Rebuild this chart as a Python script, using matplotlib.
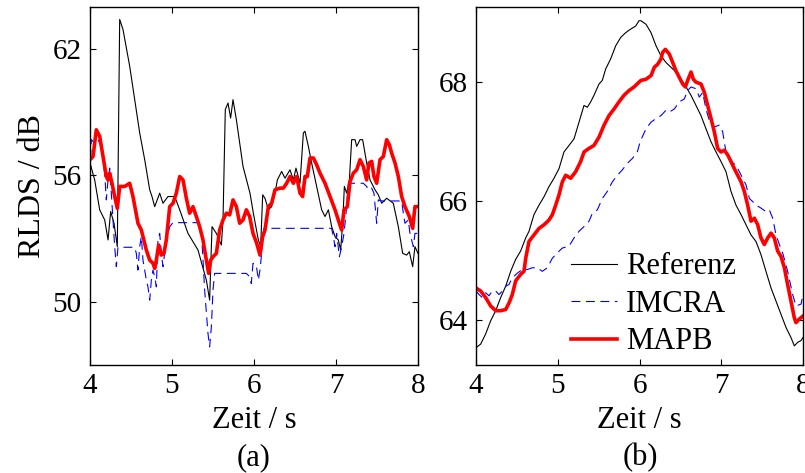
import matplotlib
matplotlib.use("Agg")
import matplotlib.pyplot as plt

plt.rcParams['font.family'] = ['Liberation Serif', 'DejaVu Serif']

# ---- panel (a): RLDS over time, x in s, y in dB ----
ref_a_t = [4.00, 4.057, 4.118, 4.179, 4.22, 4.252, 4.293, 4.333, 4.362, 4.402, 4.484, 4.606, 4.667,
           4.728, 4.756, 4.789, 4.850, 4.890, 4.951, 5.033, 5.094, 5.195, 5.317, 5.419, 5.459, 5.488,
           5.541, 5.602, 5.622, 5.650, 5.683, 5.715, 5.744, 5.785, 5.866, 5.951, 5.992, 6.053, 6.081,
           6.106, 6.134, 6.175, 6.215, 6.256, 6.285, 6.337, 6.378, 6.439, 6.480, 6.512, 6.561, 6.602,
           6.622, 6.663, 6.703, 6.764, 6.825, 6.866, 6.907, 6.947, 6.988, 7.028, 7.057, 7.081, 7.102,
           7.130, 7.163, 7.191, 7.232, 7.252, 7.293, 7.325, 7.374, 7.415, 7.476, 7.516, 7.557, 7.618,
           7.699, 7.760, 7.813, 7.862, 7.894, 7.935, 7.963, 8.0]
ref_a = [56.6, 55.79, 54.37, 53.89, 52.94, 54.29, 53.73, 52.62, 63.41, 62.94, 61.19, 58.02, 56.75,
         55.32, 55.0, 54.52, 55.16, 54.68, 55.0, 55.0, 54.37, 53.25, 52.46, 51.03, 50.08, 53.57,
         53.25, 52.70, 53.89, 59.13, 59.44, 58.73, 59.60, 58.65, 56.43, 55.16, 54.21, 52.94, 52.62,
         55.08, 54.92, 54.37, 54.52, 55.16, 55.79, 56.19, 55.87, 56.27, 55.79, 56.35, 55.63, 58.02,
         58.10, 57.38, 56.59, 55.48, 54.37, 54.05, 54.37, 53.57, 53.10, 52.94, 52.46, 53.73, 55.48,
         55.16, 55.79, 57.70, 57.70, 57.38, 57.70, 57.70, 56.59, 55.79, 55.32, 55.08, 54.68, 54.92,
         54.68, 53.57, 52.30, 52.22, 52.38, 51.67, 52.62, 52.30]

imcra_a_t = [4.00, 4.016, 4.057, 4.098, 4.138, 4.179, 4.199, 4.22, 4.240, 4.260, 4.301, 4.321, 4.341,
             4.545, 4.565, 4.585, 4.606, 4.626, 4.646, 4.667, 4.687, 4.707, 4.728, 4.748, 4.768,
             4.789, 4.809, 4.829, 4.850, 4.870, 4.890, 4.931, 4.972, 5.012, 5.317, 5.358, 5.398,
             5.439, 5.459, 5.480, 5.5, 5.520, 5.907, 5.947, 5.967, 5.988, 6.028, 6.053, 6.073, 6.093,
             6.106, 6.122, 6.947, 6.967, 6.988, 7.008, 7.041, 7.069, 7.098, 7.130, 7.150, 7.333,
             7.374, 7.394, 7.435, 7.463, 7.496, 7.516, 7.557, 7.801, 7.821, 7.841, 7.882, 7.902,
             7.943, 7.963, 8.0]
imcra_a = [56.11, 57.70, 57.54, 57.70, 57.38, 56.11, 54.84, 55.79, 56.35, 55.16, 52.62, 51.67, 52.59,
           52.59, 52.30, 51.51, 52.62, 53.10, 51.98, 51.51, 51.03, 50.71, 50.08, 51.03, 51.51,
           51.19, 50.71, 52.94, 53.25, 52.30, 51.67, 52.94, 53.57, 53.76, 53.76, 53.41, 50.56,
           48.49, 47.86, 48.81, 50.56, 51.35, 51.35, 51.19, 50.87, 51.83, 51.75, 51.03, 51.51, 52.30,
           53.10, 53.49, 53.49, 53.10, 52.62, 53.25, 52.14, 52.62, 53.25, 54.52, 55.63, 55.63,
           55.48, 55.32, 55.40, 55.16, 53.73, 54.84, 54.79, 54.79, 54.21, 53.73, 53.89, 53.25,
           52.62, 53.25, 53.25]

mapb_a_t = [4.00, 4.037, 4.077, 4.118, 4.159, 4.199, 4.22, 4.240, 4.268, 4.301, 4.333, 4.362, 4.423,
            4.484, 4.524, 4.585, 4.626, 4.687, 4.728, 4.768, 4.789, 4.809, 4.837, 4.870, 4.902, 4.931,
            4.972, 5.012, 5.053, 5.094, 5.134, 5.175, 5.215, 5.256, 5.297, 5.337, 5.378, 5.419, 5.447,
            5.472, 5.5, 5.541, 5.581, 5.622, 5.663, 5.703, 5.744, 5.785, 5.825, 5.866, 5.907, 5.947,
            5.988, 6.033, 6.073, 6.106, 6.134, 6.175, 6.215, 6.256, 6.317, 6.358, 6.398, 6.439, 6.480,
            6.520, 6.561, 6.593, 6.622, 6.650, 6.683, 6.724, 6.764, 6.805, 6.866, 6.927, 6.988, 7.041,
            7.069, 7.098, 7.138, 7.171, 7.211, 7.252, 7.293, 7.333, 7.374, 7.402, 7.435, 7.463, 7.496,
            7.537, 7.577, 7.618, 7.650, 7.679, 7.720, 7.760, 7.801, 7.841, 7.894, 7.935, 7.963, 8.0]
mapb_a = [56.75, 56.90, 58.17, 57.86, 56.90, 55.95, 55.79, 56.11, 55.63, 55.0, 54.44, 55.48, 55.48,
          55.63, 55.0, 53.73, 53.41, 52.46, 51.98, 51.83, 51.59, 51.98, 52.70, 52.22, 52.30, 52.94,
          54.52, 54.68, 55.16, 55.95, 55.79, 54.92, 54.21, 54.52, 54.05, 53.57, 52.94, 51.98, 51.35,
          51.98, 52.14, 52.30, 53.41, 53.89, 54.21, 54.13, 54.84, 54.52, 53.73, 53.89, 54.37, 54.05,
          53.25, 52.78, 52.22, 53.10, 53.41, 54.52, 54.68, 55.32, 55.40, 55.40, 55.63, 55.95, 55.63,
          55.95, 55.16, 55.0, 55.95, 55.95, 56.83, 56.83, 56.51, 56.11, 55.63, 55.0, 54.37, 53.73,
          53.41, 54.37, 54.52, 55.71, 56.11, 56.27, 56.75, 56.43, 55.79, 56.59, 56.67, 55.95, 55.63,
          56.75, 56.90, 57.70, 57.46, 57.06, 56.59, 55.95, 55.0, 54.52, 54.05, 53.49, 54.52, 54.52]

# ---- panel (b) ----
ref_b_t = [4.0, 4.057, 4.118, 4.179, 4.241, 4.302, 4.363, 4.424, 4.485, 4.546, 4.608, 4.648, 4.709,
           4.771, 4.832, 4.893, 4.954, 5.015, 5.076, 5.138, 5.199, 5.260, 5.321, 5.362, 5.403, 5.443,
           5.505, 5.545, 5.586, 5.647, 5.709, 5.770, 5.831, 5.892, 5.953, 5.994, 6.018, 6.080, 6.141,
           6.202, 6.263, 6.324, 6.385, 6.446, 6.508, 6.569, 6.630, 6.691, 6.752, 6.813, 6.875, 6.936,
           6.997, 7.058, 7.119, 7.180, 7.242, 7.303, 7.364, 7.425, 7.486, 7.547, 7.609, 7.670, 7.731,
           7.792, 7.853, 7.894, 7.935, 7.976, 8.0]
ref_b = [63.54, 63.60, 63.77, 63.99, 64.16, 64.38, 64.57, 64.82, 65.02, 65.16, 65.38, 65.49, 65.77,
         65.93, 66.07, 66.24, 66.38, 66.54, 66.82, 66.93, 67.04, 67.32, 67.60, 67.57, 67.66, 67.77,
         67.96, 68.02, 68.21, 68.38, 68.60, 68.74, 68.82, 68.88, 68.93, 69.02, 69.02, 68.96, 68.82,
         68.60, 68.43, 68.32, 68.24, 68.16, 68.04, 67.91, 67.77, 67.60, 67.43, 67.21, 66.99, 66.82,
         66.66, 66.49, 66.16, 65.93, 65.77, 65.60, 65.43, 65.32, 65.10, 64.82, 64.54, 64.32, 64.10,
         63.88, 63.71, 63.57, 63.63, 63.66, 63.71]

imcra_b_t = [4.0, 4.037, 4.077, 4.118, 4.159, 4.200, 4.241, 4.281, 4.322, 4.363, 4.404, 4.444, 4.506,
             4.567, 4.628, 4.689, 4.750, 4.811, 4.873, 4.934, 4.995, 5.056, 5.138, 5.199, 5.260,
             5.321, 5.382, 5.423, 5.484, 5.545, 5.607, 5.668, 5.729, 5.790, 5.851, 5.912, 5.973,
             6.01, 6.080, 6.141, 6.202, 6.263, 6.324, 6.365, 6.426, 6.487, 6.548, 6.589, 6.630, 6.691,
             6.732, 6.773, 6.813, 6.854, 6.915, 6.977, 7.017, 7.058, 7.119, 7.180, 7.221, 7.262,
             7.303, 7.344, 7.384, 7.425, 7.486, 7.547, 7.588, 7.629, 7.670, 7.711, 7.751, 7.812,
             7.874, 7.914, 7.976, 8.0]
imcra_b = [64.49, 64.43, 64.38, 64.46, 64.41, 64.49, 64.49, 64.43, 64.49, 64.57, 64.60, 64.71, 64.79,
           64.85, 64.85, 64.88, 64.88, 64.82, 64.88, 65.04, 65.13, 65.21, 65.24, 65.38, 65.49,
           65.57, 65.66, 65.79, 65.85, 66.04, 66.16, 66.32, 66.43, 66.52, 66.63, 66.71, 66.82,
           67.0, 67.21, 67.32, 67.38, 67.43, 67.52, 67.49, 67.54, 67.66, 67.71, 67.85, 67.91, 67.88,
           67.74, 67.82, 67.54, 67.35, 67.24, 67.27, 67.16, 66.82, 66.66, 66.60, 66.49, 66.38,
           66.27, 66.04, 65.99, 65.93, 65.88, 65.82, 65.85, 65.71, 65.43, 65.27, 65.13, 64.82,
           64.43, 64.24, 64.27, 64.43]

mapb_b_t = [4.0, 4.057, 4.118, 4.179, 4.241, 4.302, 4.363, 4.404, 4.444, 4.485, 4.546, 4.587, 4.608,
            4.648, 4.709, 4.771, 4.832, 4.893, 4.934, 4.975, 5.015, 5.056, 5.097, 5.158, 5.219, 5.280,
            5.321, 5.382, 5.443, 5.505, 5.566, 5.627, 5.688, 5.749, 5.810, 5.872, 5.933, 5.994, 6.018,
            6.080, 6.141, 6.181, 6.222, 6.263, 6.283, 6.316, 6.365, 6.406, 6.446, 6.487, 6.528, 6.561,
            6.589, 6.630, 6.658, 6.691, 6.752, 6.793, 6.834, 6.875, 6.915, 6.956, 6.997, 7.038, 7.079,
            7.119, 7.160, 7.201, 7.242, 7.282, 7.323, 7.364, 7.405, 7.446, 7.486, 7.527, 7.568, 7.609,
            7.649, 7.690, 7.731, 7.772, 7.812, 7.853, 7.894, 7.914, 7.955, 8.0]
mapb_b = [64.54, 64.49, 64.38, 64.24, 64.16, 64.16, 64.18, 64.29, 64.43, 64.66, 64.77, 64.82, 65.04,
          65.32, 65.43, 65.54, 65.60, 65.68, 65.77, 65.93, 66.10, 66.32, 66.43, 66.38, 66.49, 66.66,
          66.82, 66.88, 66.93, 67.07, 67.27, 67.43, 67.54, 67.66, 67.77, 67.85, 67.91, 67.99, 68.02,
          68.04, 68.10, 68.24, 68.29, 68.38, 68.49, 68.54, 68.46, 68.32, 68.18, 68.07, 67.96, 67.91,
          68.02, 68.16, 68.04, 67.99, 67.96, 67.82, 67.60, 67.38, 67.16, 66.88, 66.82, 66.85, 66.77,
          66.66, 66.54, 66.43, 66.32, 66.16, 65.93, 65.66, 65.71, 65.60, 65.38, 65.27, 65.38, 65.46,
          65.38, 65.16, 65.07, 64.88, 64.60, 64.32, 64.04, 63.96, 64.02, 64.07]

labels = ['Referenz', 'IMCRA', 'MAPB']

fig = plt.figure(figsize=(8.05, 4.73), dpi=100)
ax1 = fig.add_axes([90 / 805, 108 / 473, 328 / 805, 358 / 473])
ax2 = fig.add_axes([476 / 805, 108 / 473, 327 / 805, 358 / 473])


def draw(ax, t1, y1, t2, y2, t3, y3):
    ax.plot(t1, y1, color='black', lw=0.8, label=labels[0])
    ax.plot(t2, y2, color='blue', lw=0.8, ls=(0, (8, 5)), label=labels[1])
    ax.plot(t3, y3, color='red', lw=2.6, label=labels[2])
    ax.set_xlim(4, 8)
    ax.set_xticks([4, 5, 6, 7, 8])
    ax.tick_params(direction='in', top=True, right=True, length=4, width=0.8,
                   labelsize=21, pad=6)
    for s in ax.spines.values():
        s.set_linewidth(1.0)
    ax.set_xlabel('Zeit / s', fontsize=22, labelpad=5)


draw(ax1, ref_a_t, ref_a, imcra_a_t, imcra_a, mapb_a_t, mapb_a)
ax1.set_ylim(47, 64)
ax1.set_yticks([50, 56, 62])
ax1.set_ylabel('RLDS / dB', fontsize=23, labelpad=4)

draw(ax2, ref_b_t, ref_b, imcra_b_t, imcra_b, mapb_b_t, mapb_b)
ax2.set_ylim(63.25, 69.25)
ax2.set_yticks([64, 66, 68])

ax2.legend(loc='upper left', bbox_to_anchor=(0.29, 0.315), frameon=False, fontsize=22,
           handlelength=1.5, handletextpad=0.3, labelspacing=0.28, borderpad=0, borderaxespad=0)

fig.text(254 / 805, 1 - 458 / 473, '(a)', ha='center', va='center', fontsize=22)
fig.text(640 / 805, 1 - 458 / 473, '(b)', ha='center', va='center', fontsize=22)

fig.savefig('out.png', dpi=100)
